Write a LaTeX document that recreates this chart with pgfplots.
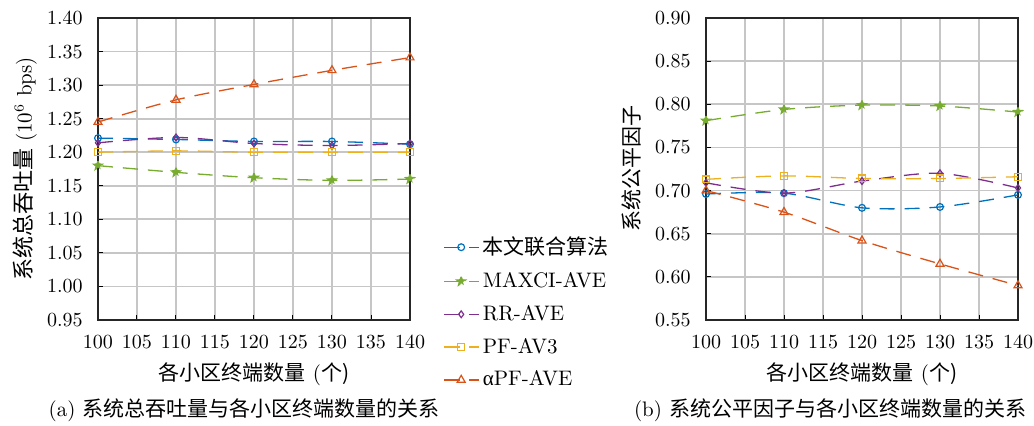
\documentclass[border=0pt]{standalone}
\usepackage{fontspec}
\usepackage{pgfplots}
\pgfplotsset{compat=1.18}
\usetikzlibrary{plotmarks}
\newfontfamily\cjk{Noto Sans CJK SC}
\newfontfamily\grk{Liberation Serif}
\definecolor{cB}{RGB}{0,114,189}
\definecolor{cG}{RGB}{119,172,48}
\definecolor{cP}{RGB}{126,47,142}
\definecolor{cY}{RGB}{237,177,32}
\definecolor{cO}{RGB}{217,83,25}
\pgfdeclareplotmark{pstar}{%
  \pgfpathmoveto{\pgfpointpolar{90}{\pgfplotmarksize}}%
  \pgfpathlineto{\pgfpointpolar{126}{0.42\pgfplotmarksize}}%
  \pgfpathlineto{\pgfpointpolar{162}{\pgfplotmarksize}}%
  \pgfpathlineto{\pgfpointpolar{198}{0.42\pgfplotmarksize}}%
  \pgfpathlineto{\pgfpointpolar{234}{\pgfplotmarksize}}%
  \pgfpathlineto{\pgfpointpolar{270}{0.42\pgfplotmarksize}}%
  \pgfpathlineto{\pgfpointpolar{306}{\pgfplotmarksize}}%
  \pgfpathlineto{\pgfpointpolar{342}{0.42\pgfplotmarksize}}%
  \pgfpathlineto{\pgfpointpolar{18}{\pgfplotmarksize}}%
  \pgfpathlineto{\pgfpointpolar{54}{0.42\pgfplotmarksize}}%
  \pgfpathclose\pgfusepathqfillstroke}
\pgfplotsset{
  myax/.style={
    scale only axis, width=156pt, height=151pt,
    xmin=100, xmax=140, xtick={100,105,...,140},
    grid=major, grid style={gray!45, line width=0.9pt},
    axis line style={black!85, line width=0.7pt},
    tick style={black, line width=0.5pt}, tick align=inside,
    major tick length=2.5pt, xtick pos=bottom, ytick pos=left,
    xlabel={{\cjk 各小区终端数量} (\cjk 个)},
    every axis x label/.style={at={(axis description cs:0.5,0)}, anchor=center, yshift=-27pt},
    yticklabel style={anchor=east, inner sep=0pt, xshift=-7.5pt, /pgf/number format/fixed, /pgf/number format/fixed zerofill, /pgf/number format/precision=2},
    xticklabel style={anchor=center, inner sep=0pt, yshift=-11pt},
    every tick label/.append style={font=\fontsize{10}{12}\selectfont},
  },
  ser/.style={line width=0.65pt, dash pattern=on 7.5pt off 5pt, smooth, tension=0.5, mark size=1.7pt, mark options={solid, line width=0.6pt}},
  tri/.style={mark=triangle, mark size=2.3pt, mark options={solid, fill=white, line width=0.6pt}},
}
\begin{document}
\begin{tikzpicture}[font=\fontsize{10.5}{12}\selectfont]
\begin{axis}[myax, at={(0,0)}, anchor=south west,
  ymin=0.95, ymax=1.40, ytick={0.95,1.00,...,1.41},
  ylabel={{\cjk\fontsize{11}{12}\selectfont 系统总吞吐量} (10$^6$ bps)},
  every axis y label/.style={at={(axis description cs:-0.234,0.5)}, anchor=center, rotate=90},
  legend style={at={(1.106,0.29)}, anchor=north west, draw=none, fill=none, inner sep=0pt, row sep=3.4pt, font=\fontsize{10.5}{12}\selectfont},
  legend cell align=left]
\addplot[ser, color=cB, mark=o] coordinates {(100,1.221) (110,1.219) (120,1.216) (130,1.216) (140,1.212)};
\addlegendentry{\cjk 本文联合算法}
\addplot[ser, color=cG, mark=pstar, mark size=2.3pt, mark options={fill=cG}] coordinates {(100,1.180) (110,1.170) (120,1.162) (130,1.158) (140,1.160)};
\addlegendentry{MAXCI-AVE}
\addplot[ser, color=cP, mark=diamond] coordinates {(100,1.214) (110,1.222) (120,1.213) (130,1.210) (140,1.213)};
\addlegendentry{RR-AVE}
\addplot[ser, color=cY, mark=square] coordinates {(100,1.200) (110,1.202) (120,1.200) (130,1.200) (140,1.200)};
\addlegendentry{PF-AV3}
\addplot[ser, color=cO, tri] coordinates {(100,1.245) (110,1.278) (120,1.301) (130,1.322) (140,1.341)};
\addlegendentry{{\grk α}PF-AVE}
\end{axis}
\begin{axis}[myax, at={(304pt,0)}, anchor=south west,
  ymin=0.55, ymax=0.90, ytick={0.55,0.60,...,0.91},
  ylabel={\cjk 系统公平因子},
  every axis y label/.style={at={(axis description cs:-0.238,0.5)}, anchor=center, rotate=90}]
\addplot[ser, color=cB, mark=o] coordinates {(100,0.696) (110,0.697) (120,0.680) (130,0.681) (140,0.695)};
\addplot[ser, color=cG, mark=pstar, mark size=2.3pt, mark options={fill=cG}] coordinates {(100,0.781) (110,0.794) (120,0.799) (130,0.798) (140,0.791)};
\addplot[ser, color=cP, mark=diamond] coordinates {(100,0.709) (110,0.697) (120,0.711) (130,0.720) (140,0.703)};
\addplot[ser, color=cY, mark=square] coordinates {(100,0.713) (110,0.717) (120,0.714) (130,0.714) (140,0.716)};
\addplot[ser, color=cO, tri] coordinates {(100,0.700) (110,0.675) (120,0.642) (130,0.615) (140,0.590)};
\end{axis}
\node at (73pt,-45pt) {(a) {\cjk 系统总吞吐量与各小区终端数量的关系}};
\node at (366pt,-45pt) {(b) {\cjk 系统公平因子与各小区终端数量的关系}};
\pgfresetboundingbox
\path[use as bounding box] (-49pt,-53pt) rectangle (468pt,160pt);
\end{tikzpicture}
\end{document}
